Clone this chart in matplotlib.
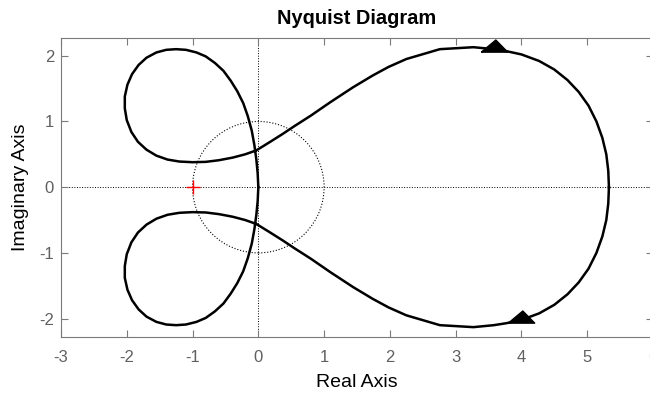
import numpy as np
import matplotlib
matplotlib.use('Agg')
import matplotlib.pyplot as plt
from matplotlib.patches import Circle

plt.rcParams['font.family'] = ['Liberation Sans', 'DejaVu Sans']
plt.rcParams['axes.unicode_minus'] = False

# positive-frequency branch (from w=0 to w=inf)
re_pos = [5.33, 5.32, 5.29, 5.23, 5.14, 5.02, 4.87, 4.70, 4.50, 4.27, 4.00, 3.77,
          3.58, 3.27, 2.76, 2.25, 1.98, 1.74, 1.44, 1.09, 0.80, 0.55, 0.37, 0.18,
          -0.03, -0.20, -0.39, -0.60, -0.80, -1.00, -1.20, -1.38, -1.55, -1.70,
          -1.83, -1.93, -2.00, -2.03, -2.03, -1.99, -1.92, -1.82, -1.70, -1.55,
          -1.40, -1.25, -1.10, -0.94, -0.80, -0.66, -0.53, -0.42, -0.32, -0.23,
          -0.16, -0.10, -0.06, -0.03, -0.01, 0.0]
im_pos = [0.0, 0.25, 0.50, 0.75, 1.00, 1.24, 1.45, 1.63, 1.79, 1.92, 2.02, 2.07,
          2.10, 2.13, 2.10, 1.95, 1.83, 1.70, 1.52, 1.29, 1.09, 0.93, 0.81, 0.69,
          0.56, 0.50, 0.45, 0.41, 0.385, 0.38, 0.39, 0.42, 0.48, 0.57,
          0.69, 0.84, 1.02, 1.20, 1.38, 1.56, 1.72, 1.86, 1.97, 2.05,
          2.09, 2.10, 2.09, 2.05, 1.99, 1.89, 1.77, 1.62, 1.46, 1.28,
          1.08, 0.86, 0.64, 0.42, 0.21, 0.0]

# negative-frequency branch is the mirror image
re_neg = re_pos
im_neg = [-v for v in im_pos]

arrow_idx = 12     # arrow on upper branch
arrow_idx_neg = 10  # arrow on lower branch

crit_point = (-1, 0)

fig = plt.figure(figsize=(6.5, 3.94), dpi=100)
ax = fig.add_axes([61 / 650, 57 / 394, 592 / 650, 299 / 394])

ax.axhline(0, color='k', ls=':', lw=0.7, zorder=1)
ax.axvline(0, color='k', ls=':', lw=0.7, zorder=1)
ax.add_patch(Circle((0, 0), 1, fill=False, ls=':', lw=0.8, ec='k', zorder=1))

ax.plot(re_pos, im_pos, color='k', lw=1.8, zorder=3)
ax.plot(re_neg, im_neg, color='k', lw=1.8, zorder=3)

tri = [(-1, -0.2), (1, -0.2), (0.1, 0.72), (-1, -0.2)]
ax.plot(re_pos[arrow_idx], im_pos[arrow_idx], marker=tri, ms=19, color='k',
        mec='k', ls='none', zorder=4)
ax.plot(re_neg[arrow_idx_neg], im_neg[arrow_idx_neg], marker=tri, ms=19,
        color='k', mec='k', ls='none', zorder=4)

ax.plot(*crit_point, marker='+', color='r', ms=10, mew=1.0, zorder=5)

ax.set_xlim(-3, 6)
ax.set_ylim(-2.28, 2.27)
ax.set_xticks(range(-3, 7))
ax.set_yticks(range(-2, 3))

axis_gray = '#7a7a7a'
for s in ax.spines.values():
    s.set_color(axis_gray)
    s.set_linewidth(0.8)
ax.tick_params(direction='in', length=5, width=0.8, color=axis_gray,
               labelcolor='#606060', labelsize=12, top=True, right=True)
ax.tick_params(axis='x', pad=9)
ax.tick_params(axis='y', pad=5)

ax.set_xlabel('Real Axis', fontsize=14, labelpad=7)
ax.set_ylabel('Imaginary Axis', fontsize=14, labelpad=7)
ax.set_title('Nyquist Diagram', fontsize=14.4, fontweight='bold', pad=10)

fig.savefig('out.png', dpi=100)
